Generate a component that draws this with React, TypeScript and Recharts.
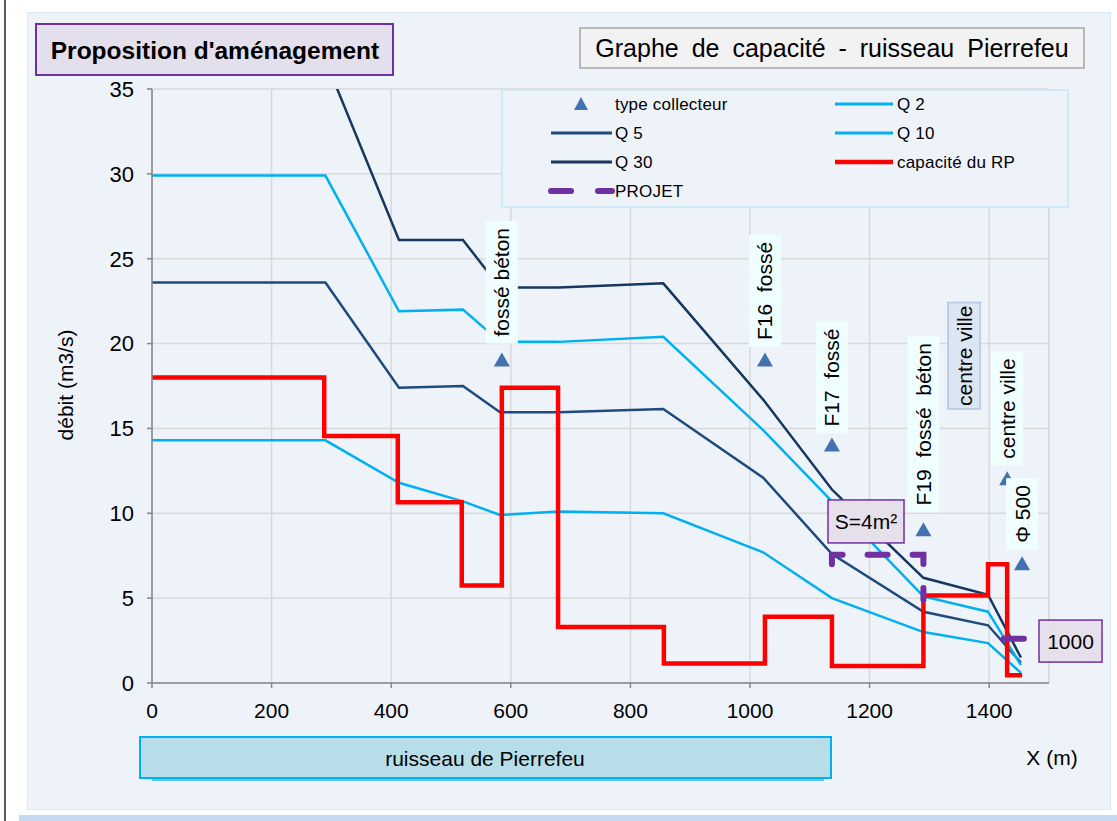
import React from "react";
import {
    ComposedChart,
    Line,
    Scatter,
    XAxis,
    YAxis,
    CartesianGrid,
    ReferenceDot,
    ReferenceLine,
} from "recharts";

// axis ticks
const xTicks = [0, 200, 400, 600, 800, 1000, 1200, 1400];
const yTicks = [0, 5, 10, 15, 20, 25, 30, 35];

// flow profiles along the stream (m3/s)
const profileX = [0, 290, 413, 520, 582, 680, 855, 1022, 1137, 1290, 1398, 1453];
const q2 = [14.3, 14.3, 11.8, 10.7, 9.9, 10.1, 10.0, 7.7, 5.0, 3.0, 2.35, 0.6];
const q5 = [23.6, 23.6, 17.4, 17.5, 15.95, 15.95, 16.15, 12.1, 7.6, 4.2, 3.4, 1.2];
const q10 = [29.9, 29.9, 21.9, 22.0, 20.1, 20.1, 20.4, 14.9, 10.7, 5.1, 4.2, 1.05];
const q30 = [36.7, 36.7, 26.1, 26.1, 23.3, 23.3, 23.55, 16.7, 11.4, 6.2, 5.2, 1.5];

// capacity of the stream, one level per reach (step)
const capX = [0, 288, 411, 518, 585, 679, 856, 1025, 1137, 1290, 1398, 1430, 1455];
const capY = [18.0, 14.55, 10.65, 5.75, 17.4, 3.3, 1.15, 3.9, 1.0, 5.15, 7.0, 0.45, 0.45];

// proposed works
const projetX = [1137, 1137, 1290, 1290];
const projetY = [7.0, 7.55, 7.55, 7.0];
const projetMarkAX = [1290, 1290];
const projetMarkAY = [4.9, 5.6];
const projetMarkBX = [1424, 1458];
const projetMarkBY = [2.6, 2.6];

// collector type markers
const collX = [585, 1025, 1137, 1290, 1430, 1455];
const collY = [19.0, 19.0, 14.0, 9.0, 12.0, 7.0];

// vertical tags above the markers (y = bottom of the tag)
const tagText = ["fossé béton", "F16  fossé", "F17  fossé", "F19  fossé  béton", "centre ville", "Φ 500"];
const tagX = [585, 1025, 1137, 1290, 1430, 1455];
const tagY = [20.0, 19.8, 14.7, 10.05, 12.8, 7.85];
const framedTag = { text: "centre ville", x: 1358, y: 16.15 };

const zip = (xs: number[], ys: number[]) => xs.map((x, i) => ({ x, y: ys[i] }));

const q2Data = zip(profileX, q2);
const q5Data = zip(profileX, q5);
const q10Data = zip(profileX, q10);
const q30Data = zip(profileX, q30);
const capData = zip(capX, capY);
const projetData = zip(projetX, projetY);
const projetMarkA = zip(projetMarkAX, projetMarkAY);
const projetMarkB = zip(projetMarkBX, projetMarkBY);
const collData = zip(collX, collY);
const tagData = tagText.map((text, i) => ({ x: tagX[i], y: tagY[i], text }));

const FONT = "'Liberation Sans', Arial, sans-serif";
const NAVY = "#17375e";
const NAVY2 = "#1f4a7c";
const CYAN = "#00b0f0";
const RED = "#ff0000";
const PURPLE = "#7030a0";
const TRI = "#4472b0";

let measureCtx: CanvasRenderingContext2D | null = null;
function textWidth(text: string, size: number) {
    if (!measureCtx) measureCtx = document.createElement("canvas").getContext("2d");
    if (!measureCtx) return text.length * size * 0.5;
    measureCtx.font = `${size}px 'Liberation Sans'`;
    return measureCtx.measureText(text).width;
}

// eslint-disable-next-line @typescript-eslint/no-explicit-any
function Triangle({ cx, cy }: any) {
    if (cx == null || cy == null) return null;
    return <polygon points={`${cx},${cy - 8} ${cx + 8},${cy + 6} ${cx - 8},${cy + 6}`} fill={TRI} />;
}

function Tag(cx: number, cy: number, text: string, framed: boolean) {
    const len = textWidth(text, 21) + (framed ? 6 : 14);
    const mid = cy - len / 2;
    return (
        <g>
            <rect
                x={cx - 16}
                y={cy - len}
                width={32}
                height={len}
                fill={framed ? "#dce6f2" : "#effefe"}
                stroke={framed ? "#b9cde5" : "none"}
                strokeWidth={2}
            />
            <text
                x={cx}
                y={mid}
                transform={`rotate(-90 ${cx} ${mid})`}
                textAnchor="middle"
                dominantBaseline="central"
                fontSize={21}
                fontFamily={FONT}
                fill="#000"
                style={{ whiteSpace: "pre" }}
            >
                {text}
            </text>
        </g>
    );
}

// eslint-disable-next-line @typescript-eslint/no-explicit-any
function TagShape({ cx, cy, payload }: any) {
    if (cx == null || cy == null) return null;
    return Tag(cx, cy, payload.text, false);
}

// eslint-disable-next-line @typescript-eslint/no-explicit-any
const framedShape = ({ cx, cy }: any) => Tag(cx, cy, framedTag.text, true);

function boxShape(text: string, w: number, h: number) {
    // eslint-disable-next-line @typescript-eslint/no-explicit-any
    return ({ cx, cy }: any) => (
        <g>
            <rect x={cx - w / 2} y={cy - h / 2} width={w} height={h} fill="#e6e0ec" stroke={PURPLE} strokeWidth={1.5} />
            <text x={cx} y={cy} textAnchor="middle" dominantBaseline="central" fontSize={21} fontFamily={FONT} fill="#000">
                {text}
            </text>
        </g>
    );
}

function Legend() {
    const t = { fontSize: 17, fontFamily: FONT, fill: "#000", dominantBaseline: "central" as const, letterSpacing: 0.2 };
    return (
        <g>
            <rect x={502} y={90} width={566} height={117} fill="#eef3fa" stroke="#c4e8f7" strokeWidth={1.5} />
            <polygon points="581,97 588,110 574,110" fill={TRI} />
            <text x={615} y={104} {...t}>type collecteur</text>
            <line x1={551} x2={612} y1={133} y2={133} stroke={NAVY2} strokeWidth={3} />
            <text x={615} y={133} {...t}>Q 5</text>
            <line x1={551} x2={612} y1={162} y2={162} stroke={NAVY} strokeWidth={3} />
            <text x={615} y={162} {...t}>Q 30</text>
            <line x1={551} x2={612} y1={191} y2={191} stroke={PURPLE} strokeWidth={6} strokeDasharray="20 27" strokeLinecap="round" />
            <text x={615} y={191} {...t}>PROJET</text>
            <line x1={835} x2={893} y1={104} y2={104} stroke={CYAN} strokeWidth={3} />
            <text x={897} y={104} {...t}>Q 2</text>
            <line x1={835} x2={893} y1={133} y2={133} stroke={CYAN} strokeWidth={3} />
            <text x={897} y={133} {...t}>Q 10</text>
            <line x1={835} x2={893} y1={162} y2={162} stroke={RED} strokeWidth={4.5} />
            <text x={897} y={162} {...t}>capacité du RP</text>
        </g>
    );
}

export default function App() {
    return (
        <div style={{ position: "absolute", left: 0, top: 0, width: 1117, height: 821, background: "#fff", overflow: "hidden" }}>
            <div style={{ position: "absolute", left: 4, top: 0, width: 1.5, height: 821, background: "#595959" }} />
            <div style={{ position: "absolute", left: 19, top: 815, width: 1098, height: 6, background: "#c6d9f1" }} />
            <div
                style={{
                    position: "absolute",
                    left: 27,
                    top: 12,
                    width: 1082,
                    height: 796,
                    background: "#eef3fa",
                    border: "1px solid #dbe9f3",
                }}
            />
            <div style={{ position: "absolute", left: 0, top: 0 }}>
                <ComposedChart width={1117} height={821} margin={{ top: 89, right: 68, bottom: 108, left: 92 }}>
                    <CartesianGrid stroke="#d9d9d9" strokeWidth={1.5} />
                    <ReferenceLine x={1500} stroke="#d9d9d9" strokeWidth={1.5} />
                    <XAxis
                        type="number"
                        dataKey="x"
                        domain={[0, 1500]}
                        ticks={xTicks}
                        interval={0}
                        allowDataOverflow
                        height={30}
                        tickSize={5}
                        tickMargin={15}
                        axisLine={{ stroke: "#868686", strokeWidth: 1.5 }}
                        tickLine={{ stroke: "#868686", strokeWidth: 1.5 }}
                        tick={{ fontSize: 21, fill: "#000", fontFamily: FONT }}
                    />
                    <YAxis
                        type="number"
                        dataKey="y"
                        domain={[0, 35]}
                        ticks={yTicks}
                        interval={0}
                        allowDataOverflow
                        width={60}
                        tickSize={5}
                        tickMargin={13}
                        axisLine={{ stroke: "#868686", strokeWidth: 1.5 }}
                        tickLine={{ stroke: "#868686", strokeWidth: 1.5 }}
                        tick={{ fontSize: 22, fill: "#000", fontFamily: FONT }}
                    />
                    <Line data={q2Data} dataKey="y" name="Q 2" type="linear" stroke={CYAN} strokeWidth={2.5} dot={false} isAnimationActive={false} />
                    <Line data={q5Data} dataKey="y" name="Q 5" type="linear" stroke={NAVY2} strokeWidth={2.5} dot={false} isAnimationActive={false} />
                    <Line data={q10Data} dataKey="y" name="Q 10" type="linear" stroke={CYAN} strokeWidth={2.5} dot={false} isAnimationActive={false} />
                    <Line data={q30Data} dataKey="y" name="Q 30" type="linear" stroke={NAVY} strokeWidth={2.5} dot={false} isAnimationActive={false} />
                    <Line data={capData} dataKey="y" name="capacité du RP" type="stepAfter" stroke={RED} strokeWidth={4.5} dot={false} isAnimationActive={false} />
                    <Line
                        data={projetData}
                        dataKey="y"
                        name="PROJET"
                        type="linear"
                        stroke={PURPLE}
                        strokeWidth={6}
                        strokeDasharray="20 25"
                        strokeLinecap="round"
                        dot={false}
                        isAnimationActive={false}
                    />
                    <Line data={projetMarkA} dataKey="y" type="linear" stroke={PURPLE} strokeWidth={6} strokeLinecap="round" dot={false} isAnimationActive={false} />
                    <Line data={projetMarkB} dataKey="y" type="linear" stroke={PURPLE} strokeWidth={6} strokeLinecap="round" dot={false} isAnimationActive={false} />
                    <Scatter data={collData} dataKey="y" name="type collecteur" shape={<Triangle />} isAnimationActive={false} />
                    <Scatter data={tagData} dataKey="y" shape={<TagShape />} isAnimationActive={false} />
                    <ReferenceDot x={framedTag.x} y={framedTag.y} ifOverflow="visible" shape={framedShape} />
                    <ReferenceDot x={1194} y={9.52} ifOverflow="visible" shape={boxShape("S=4m²", 76, 43)} />
                    <ReferenceDot x={1536} y={2.47} ifOverflow="visible" shape={boxShape("1000", 63, 42)} />
                </ComposedChart>
            </div>
            <svg width={1117} height={821} style={{ position: "absolute", left: 0, top: 0, pointerEvents: "none" }}>
                <rect x={36} y={24} width={357} height={51} fill="#e4dfec" stroke={PURPLE} strokeWidth={2} />
                <text x={215} y={50} textAnchor="middle" dominantBaseline="central" fontSize={24.5} fontWeight="bold" fontFamily={FONT} fill="#000">
                    Proposition d'aménagement
                </text>
                <rect x={580} y={28} width={504} height={40} fill="#f2f2f2" stroke="#a6a6a6" strokeWidth={1.5} />
                <text x={832} y={48} textAnchor="middle" dominantBaseline="central" fontSize={25} fontFamily={FONT} fill="#000" wordSpacing={6}>
                    Graphe de capacité - ruisseau Pierrefeu
                </text>
                <Legend />
                <text
                    x={65}
                    y={385}
                    transform="rotate(-90 65 385)"
                    textAnchor="middle"
                    dominantBaseline="central"
                    fontSize={21}
                    fontFamily={FONT}
                    fill="#000"
                >
                    débit (m3/s)
                </text>
                <text x={1052} y={757} textAnchor="middle" dominantBaseline="central" fontSize={21} fontFamily={FONT} fill="#000">
                    X (m)
                </text>
                <rect x={152} y={776} width={672} height={5} fill="#5ac8f0" />
                <rect x={140} y={737} width={691} height={41} fill="#b7dee8" stroke={CYAN} strokeWidth={2} />
                <text x={485} y={758} textAnchor="middle" dominantBaseline="central" fontSize={21} fontFamily={FONT} fill="#000">
                    ruisseau de Pierrefeu
                </text>
            </svg>
        </div>
    );
}
